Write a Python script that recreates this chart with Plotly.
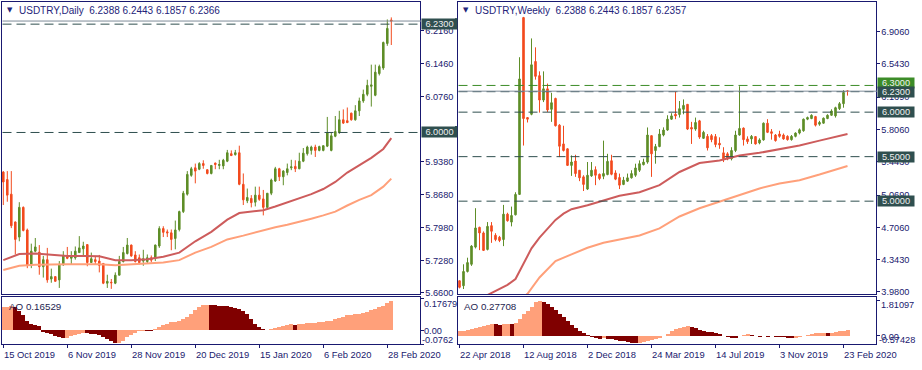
import plotly.graph_objects as go

W, H = 922, 370

# ---------------- Daily USDTRY (bars 15 Oct 2019 .. 2 Mar 2020) ----------------
d_open = [5.916, 5.900, 5.869, 5.810, 5.778, 5.841, 5.793, 5.718, 5.748, 5.746,
          5.715, 5.730, 5.689, 5.694, 5.687, 5.719, 5.736, 5.733, 5.734, 5.745,
          5.753, 5.762, 5.724, 5.730, 5.727, 5.722, 5.680, 5.682, 5.680, 5.697,
          5.726, 5.743, 5.761, 5.740, 5.734, 5.727, 5.726, 5.734, 5.733, 5.759,
          5.796, 5.789, 5.787, 5.775, 5.794, 5.832, 5.869, 5.909, 5.925, 5.922,
          5.934, 5.921, 5.913, 5.935, 5.930, 5.929, 5.939, 5.955, 5.953, 5.957,
          5.890, 5.855, 5.860, 5.852, 5.867, 5.859, 5.841, 5.871, 5.897, 5.923,
          5.906, 5.915, 5.925, 5.928, 5.923, 5.939, 5.955, 5.962, 5.969, 5.962,
          5.962, 5.971, 5.962, 5.992, 6.000, 6.027, 6.025, 6.041, 6.027, 6.046,
          6.067, 6.081, 6.098, 6.079, 6.125, 6.137, 6.189, 6.2388]
d_high = [5.918, 5.918, 5.918, 5.811, 5.852, 5.843, 5.796, 5.764, 5.776, 5.761,
          5.738, 5.755, 5.711, 5.694, 5.727, 5.748, 5.757, 5.748, 5.758, 5.780,
          5.768, 5.762, 5.745, 5.738, 5.740, 5.722, 5.698, 5.689, 5.703, 5.738,
          5.757, 5.776, 5.762, 5.748, 5.741, 5.751, 5.741, 5.739, 5.762, 5.801,
          5.801, 5.794, 5.794, 5.813, 5.834, 5.876, 5.918, 5.927, 5.934, 5.937,
          5.941, 5.921, 5.930, 5.936, 5.942, 5.944, 5.963, 5.962, 5.963, 5.972,
          5.913, 5.881, 5.867, 5.885, 5.885, 5.878, 5.871, 5.902, 5.927, 5.925,
          5.920, 5.934, 5.942, 5.941, 5.957, 5.967, 5.972, 5.972, 5.974, 5.972,
          5.972, 6.033, 6.000, 6.035, 6.046, 6.049, 6.053, 6.042, 6.058, 6.074,
          6.091, 6.112, 6.144, 6.144, 6.144, 6.193, 6.240, 6.2443]
d_low = [5.846, 5.853, 5.797, 5.741, 5.769, 5.790, 5.712, 5.712, 5.746, 5.698,
         5.692, 5.681, 5.681, 5.684, 5.670, 5.717, 5.731, 5.719, 5.730, 5.745,
         5.738, 5.716, 5.723, 5.719, 5.703, 5.678, 5.670, 5.668, 5.678, 5.697,
         5.724, 5.741, 5.736, 5.724, 5.720, 5.717, 5.722, 5.724, 5.727, 5.755,
         5.778, 5.778, 5.750, 5.752, 5.790, 5.829, 5.866, 5.906, 5.892, 5.920,
         5.923, 5.911, 5.911, 5.922, 5.922, 5.922, 5.937, 5.950, 5.951, 5.888,
         5.846, 5.850, 5.841, 5.843, 5.855, 5.824, 5.836, 5.867, 5.895, 5.897,
         5.888, 5.909, 5.920, 5.916, 5.922, 5.937, 5.951, 5.953, 5.948, 5.960,
         5.960, 5.969, 5.960, 5.990, 5.997, 6.018, 6.020, 6.025, 6.025, 6.035,
         6.063, 6.077, 6.055, 6.077, 6.121, 6.133, 6.184, 6.1857]
d_close = [5.895, 5.867, 5.802, 5.773, 5.841, 5.792, 5.718, 5.748, 5.757, 5.715,
           5.730, 5.687, 5.694, 5.684, 5.720, 5.738, 5.733, 5.736, 5.748, 5.755,
           5.759, 5.724, 5.732, 5.726, 5.718, 5.680, 5.684, 5.681, 5.697, 5.726,
           5.745, 5.761, 5.738, 5.726, 5.724, 5.732, 5.734, 5.729, 5.761, 5.796,
           5.788, 5.787, 5.773, 5.793, 5.832, 5.871, 5.911, 5.923, 5.918, 5.934,
           5.930, 5.913, 5.930, 5.932, 5.932, 5.941, 5.957, 5.951, 5.957, 5.890,
           5.857, 5.862, 5.851, 5.867, 5.858, 5.841, 5.871, 5.899, 5.923, 5.906,
           5.918, 5.923, 5.927, 5.923, 5.939, 5.956, 5.969, 5.969, 5.962, 5.970,
           5.972, 6.000, 5.993, 6.002, 6.027, 6.020, 6.021, 6.027, 6.046, 6.067,
           6.081, 6.100, 6.101, 6.128, 6.140, 6.191, 6.221, 6.2366]

d_ma_slow_idx = [0, 4, 8, 12, 16, 20, 24, 28, 32, 36, 40, 44, 48, 52, 56, 59, 62,
                 65, 68, 71, 74, 77, 80, 83, 86, 89, 92, 95, 97]
d_ma_slow = [5.729, 5.742, 5.743, 5.740, 5.738, 5.738, 5.737, 5.729, 5.729, 5.731,
             5.736, 5.745, 5.769, 5.789, 5.815, 5.829, 5.832, 5.835, 5.843, 5.852,
             5.860, 5.869, 5.880, 5.895, 5.915, 5.930, 5.946, 5.965, 5.988]
d_ma_fast_idx = [0, 4, 8, 12, 16, 20, 24, 28, 32, 36, 40, 44, 48, 52, 56, 60, 64,
                 68, 71, 74, 77, 80, 83, 86, 89, 92, 95, 97]
d_ma_fast = [5.708, 5.717, 5.719, 5.720, 5.720, 5.720, 5.720, 5.718, 5.720, 5.722,
             5.724, 5.729, 5.745, 5.757, 5.773, 5.781, 5.790, 5.799, 5.804, 5.810,
             5.817, 5.824, 5.832, 5.845, 5.857, 5.867, 5.885, 5.902]

d_ao = [0.128, 0.132, 0.138, 0.132, 0.110, 0.086, 0.053, 0.035, 0.031, 0.022,
        -0.009, -0.017, -0.020, -0.029, -0.039, -0.042, -0.041, -0.033, -0.024, -0.018,
        -0.015, -0.016, -0.018, -0.020, -0.028, -0.035, -0.046, -0.057, -0.070, -0.068,
        -0.057, -0.039, -0.024, -0.015, -0.004, -0.002, -0.004, -0.006, 0.009, 0.017,
        0.028, 0.035, 0.044, 0.045, 0.050, 0.061, 0.075, 0.092, 0.114, 0.132,
        0.141, 0.143, 0.141, 0.140, 0.138, 0.136, 0.134, 0.132, 0.127, 0.119,
        0.108, 0.090, 0.064, 0.037, 0.017, 0.006, 0.004, 0.007, 0.013, 0.020,
        0.026, 0.031, 0.033, 0.029, 0.033, 0.037, 0.039, 0.0395, 0.040, 0.044,
        0.048, 0.050, 0.055, 0.062, 0.070, 0.077, 0.084, 0.088, 0.090, 0.094,
        0.099, 0.105, 0.112, 0.121, 0.129, 0.136, 0.151, 0.16529]

d_tick_idx = [0, 16, 32, 48, 64, 80, 96]
d_tick_text = ["15 Oct 2019", "6 Nov 2019", "28 Nov 2019", "20 Dec 2019",
               "15 Jan 2020", "6 Feb 2020", "28 Feb 2020"]
d_price_ticks = [6.216, 6.146, 6.076, 5.938, 5.868, 5.798, 5.728, 5.660]
d_price_text = ["6.2160", "6.1460", "6.0760", "5.9380", "5.8680", "5.7980", "5.7280", "5.6600"]
d_levels = [6.23, 6.00]
d_level_text = ["6.2300", "6.0000"]
d_bid = 6.2366

# ---------------- Weekly USDTRY (bars 22 Apr 2018 .. 1 Mar 2020) ----------------
w_open = [4.106, 4.050, 4.210, 4.291, 4.484, 4.706, 4.643, 4.458, 4.725, 4.617,
          4.595, 4.569, 4.854, 4.765, 4.847, 5.076, 7.062, 5.939, 5.976, 6.569,
          6.410, 6.136, 6.262, 6.032, 6.154, 5.854, 5.643, 5.588, 5.402, 5.451,
          5.347, 5.273, 5.136, 5.284, 5.354, 5.302, 5.280, 5.299, 5.454, 5.317,
          5.265, 5.188, 5.225, 5.262, 5.291, 5.347, 5.410, 5.439, 5.736, 5.569,
          5.613, 5.743, 5.799, 5.921, 5.976, 5.973, 6.032, 6.088, 5.828, 5.810,
          5.902, 5.706, 5.728, 5.736, 5.725, 5.650, 5.543, 5.532, 5.476, 5.569,
          5.743, 5.821, 5.699, 5.699, 5.725, 5.654, 5.688, 5.876, 5.780, 5.743,
          5.754, 5.743, 5.728, 5.691, 5.728, 5.765, 5.791, 5.921, 5.928, 5.950,
          5.865, 5.876, 5.928, 5.965, 5.958, 6.039, 6.095, 6.2388]
w_high = [4.110, 4.291, 4.365, 4.506, 4.921, 4.713, 4.660, 4.765, 4.765, 4.640,
          4.610, 4.958, 4.870, 4.939, 5.100, 6.617, 7.070, 5.940, 6.828, 6.728,
          6.458, 6.458, 6.321, 6.217, 6.162, 5.865, 5.847, 5.595, 5.514, 5.521,
          5.347, 5.291, 5.440, 5.440, 5.391, 5.310, 5.680, 5.532, 5.521, 5.347,
          5.310, 5.273, 5.310, 5.347, 5.421, 5.458, 5.477, 5.828, 5.736, 5.643,
          5.810, 5.829, 5.965, 5.988, 6.236, 6.125, 6.143, 6.088, 5.891, 5.939,
          5.913, 5.791, 5.754, 5.754, 5.754, 5.717, 5.606, 5.550, 5.606, 5.791,
          6.291, 5.828, 5.728, 5.743, 5.728, 5.706, 5.884, 5.921, 5.810, 5.754,
          5.791, 5.760, 5.740, 5.743, 5.773, 5.817, 5.928, 5.950, 5.976, 5.958,
          5.902, 5.940, 5.976, 6.032, 6.061, 6.113, 6.247, 6.2443]
w_low = [4.020, 4.013, 4.199, 4.273, 4.469, 4.450, 4.440, 4.447, 4.532, 4.550,
         4.540, 4.495, 4.770, 4.717, 4.840, 5.069, 5.625, 5.884, 5.965, 6.365,
         5.995, 6.113, 6.002, 5.891, 5.839, 5.495, 5.558, 5.395, 5.284, 5.273,
         5.225, 5.114, 5.125, 5.273, 5.180, 5.236, 5.247, 5.291, 5.291, 5.236,
         5.136, 5.180, 5.217, 5.254, 5.273, 5.328, 5.402, 5.421, 5.273, 5.421,
         5.606, 5.728, 5.791, 5.914, 5.921, 5.939, 5.976, 5.799, 5.643, 5.791,
         5.700, 5.699, 5.569, 5.662, 5.606, 5.588, 5.439, 5.460, 5.458, 5.551,
         5.736, 5.625, 5.643, 5.643, 5.636, 5.639, 5.680, 5.765, 5.691, 5.669,
         5.713, 5.690, 5.680, 5.680, 5.717, 5.750, 5.780, 5.910, 5.921, 5.839,
         5.847, 5.870, 5.921, 5.958, 5.939, 6.024, 6.050, 6.1857]
w_close = [4.032, 4.210, 4.310, 4.495, 4.699, 4.643, 4.447, 4.717, 4.662, 4.569,
           4.558, 4.854, 4.780, 4.839, 5.076, 6.373, 5.928, 5.921, 6.532, 6.402,
           6.136, 6.262, 6.025, 6.106, 5.847, 5.617, 5.569, 5.402, 5.440, 5.310,
           5.262, 5.188, 5.291, 5.347, 5.291, 5.254, 5.310, 5.447, 5.302, 5.247,
           5.180, 5.236, 5.262, 5.310, 5.373, 5.421, 5.439, 5.743, 5.532, 5.613,
           5.754, 5.799, 5.921, 5.958, 5.958, 6.039, 6.076, 5.810, 5.810, 5.884,
           5.720, 5.773, 5.599, 5.691, 5.636, 5.632, 5.476, 5.476, 5.569, 5.743,
           5.817, 5.691, 5.669, 5.728, 5.643, 5.688, 5.876, 5.773, 5.762, 5.680,
           5.728, 5.699, 5.691, 5.728, 5.765, 5.802, 5.921, 5.939, 5.965, 5.854,
           5.884, 5.932, 5.965, 6.013, 6.050, 6.095, 6.220, 6.2357]

w_ma_slow_idx = [5, 8, 10, 12, 14, 16, 18, 20, 22, 24, 26, 28, 32, 36, 40, 45, 50,
                 55, 60, 65, 70, 75, 80, 85, 90, 95, 97]
w_ma_slow = [3.90, 3.97, 4.01, 4.06, 4.125, 4.30, 4.47, 4.59, 4.69, 4.79, 4.86,
             4.91, 4.955, 5.01, 5.06, 5.10, 5.18, 5.328, 5.428, 5.458, 5.513,
             5.543, 5.588, 5.625, 5.68, 5.728, 5.754]
w_ma_fast_idx = [15, 17, 20, 24, 28, 32, 36, 40, 45, 50, 55, 60, 65, 70, 75, 80,
                 85, 90, 95, 97]
w_ma_fast = [3.88, 3.96, 4.143, 4.328, 4.402, 4.476, 4.532, 4.569, 4.615, 4.695,
             4.828, 4.921, 4.995, 5.076, 5.143, 5.199, 5.236, 5.299, 5.373, 5.395]

w_ao = [0.222, 0.256, 0.291, 0.342, 0.393, 0.444, 0.496, 0.564, 0.615, 0.581,
        0.573, 0.598, 0.607, 0.581, 0.632, 0.855, 1.111, 1.299, 1.504, 1.761,
        1.81097, 1.761, 1.658, 1.504, 1.316, 1.145, 0.957, 0.769, 0.564, 0.393,
        0.222, 0.120, 0.017, -0.068, -0.120, -0.171, -0.120, -0.171, -0.179, -0.205,
        -0.256, -0.291, -0.325, -0.359, -0.385, -0.376, -0.325, -0.291, -0.222, -0.154,
        -0.103, -0.034, 0.085, 0.222, 0.342, 0.393, 0.444, 0.496, 0.444, 0.376,
        0.308, 0.256, 0.205, 0.188, 0.137, 0.068, 0.000, -0.068, -0.120, -0.128,
        -0.017, 0.051, 0.068, 0.034, -0.017, -0.051, -0.034, -0.051, -0.043, -0.051,
        -0.068, -0.085, -0.120, -0.137, -0.103, -0.068, -0.034, 0.034, 0.085, 0.137,
        0.154, 0.162, 0.145, 0.154, 0.188, 0.222, 0.256, 0.27708]

w_tick_idx = [0, 16, 32, 48, 64, 80, 96]
w_tick_text = ["22 Apr 2018", "12 Aug 2018", "2 Dec 2018", "24 Mar 2019",
               "14 Jul 2019", "3 Nov 2019", "23 Feb 2020"]
w_price_ticks = [6.906, 6.543, 6.169, 5.806, 5.443, 5.069, 4.706, 4.343, 3.980]
w_price_text = ["6.9060", "6.5430", "6.1690", "5.8060", "5.4430", "5.0690",
                "4.7060", "4.3430", "3.9800"]
w_levels = [6.30, 6.23, 6.00, 5.50, 5.00]
w_level_text = ["6.3000", "6.2300", "6.0000", "5.5000", "5.0000"]
w_bid = 6.2357

# ---------------- styling ----------------
BULL = "#5E8E28"
BEAR = "#F24B1F"
MA_SLOW = "#CD5C5C"
MA_FAST = "#FFA07A"
AO_UP = "#FFA07A"
AO_DN = "#800000"
NAVY = "#191970"
TXT = "#20206E"
SLATE = "#2F4F4F"
LEVEL_GREEN = "#3C8C28"
BIDGRAY = "#7F8C99"
FONT = "Liberation Sans, Arial, sans-serif"


def px(x):
    return x / W


def py(y):
    return 1 - y / H


def ao_colors(vals):
    cols = []
    for k, v in enumerate(vals):
        cols.append(AO_UP if k == 0 or v > vals[k - 1] else AO_DN)
    return cols


fig = go.Figure()

panels = [
    dict(xa="x", ya="y", xa2="x2", ya2="y2", o=d_open, h=d_high, l=d_low, c=d_close,
         s_idx=d_ma_slow_idx, s=d_ma_slow, f_idx=d_ma_fast_idx, f=d_ma_fast, ao=d_ao),
    dict(xa="x3", ya="y3", xa2="x4", ya2="y4", o=w_open, h=w_high, l=w_low, c=w_close,
         s_idx=w_ma_slow_idx, s=w_ma_slow, f_idx=w_ma_fast_idx, f=w_ma_fast, ao=w_ao),
]

for p in panels:
    idx = list(range(len(p["o"])))
    fig.add_trace(go.Scatter(x=p["f_idx"], y=p["f"], mode="lines",
                             line=dict(color=MA_FAST, width=2, shape="linear"),
                             xaxis=p["xa"], yaxis=p["ya"], hoverinfo="skip"))
    fig.add_trace(go.Scatter(x=p["s_idx"], y=p["s"], mode="lines",
                             line=dict(color=MA_SLOW, width=2, shape="linear"),
                             xaxis=p["xa"], yaxis=p["ya"], hoverinfo="skip"))
    fig.add_trace(go.Candlestick(
        x=idx, open=p["o"], high=p["h"], low=p["l"], close=p["c"],
        increasing=dict(line=dict(color=BULL, width=1), fillcolor=BULL),
        decreasing=dict(line=dict(color=BEAR, width=1), fillcolor=BEAR),
        whiskerwidth=0, xaxis=p["xa"], yaxis=p["ya"], hoverinfo="skip"))
    fig.add_trace(go.Bar(x=idx, y=p["ao"], width=1.0, marker=dict(color=ao_colors(p["ao"]), line=dict(width=0)),
                         xaxis=p["xa2"], yaxis=p["ya2"], hoverinfo="skip"))

axis_common = dict(showgrid=False, zeroline=False, showline=True, mirror=True,
                   linecolor=NAVY, linewidth=1, fixedrange=True)
tickfont = dict(family=FONT, size=9.2, color=TXT)

d_xdom = [px(2), px(419.5)]
w_xdom = [px(458), px(875.5)]
main_ydom = [py(297.5), py(2.5)]
ao_ydom = [py(348), py(300.5)]

layout = dict(
    width=W, height=H, margin=dict(l=0, r=0, t=0, b=0),
    paper_bgcolor="white", plot_bgcolor="white", showlegend=False,
    hovermode=False, boxgap=0.45, bargap=0,
    xaxis=dict(axis_common, domain=d_xdom, range=[-0.325, 104.05], anchor="y",
               showticklabels=False, ticks="", rangeslider=dict(visible=False)),
    yaxis=dict(axis_common, domain=main_ydom, range=[5.6565, 6.276], anchor="x", side="right",
               tickmode="array", tickvals=d_price_ticks, ticktext=d_price_text,
               ticks="outside", ticklen=3, tickcolor=NAVY, tickfont=tickfont),
    xaxis2=dict(axis_common, domain=d_xdom, range=[-0.325, 104.05], anchor="y2",
                tickmode="array", tickvals=d_tick_idx, ticks="outside", ticklen=3,
                tickcolor=NAVY, showticklabels=False),
    yaxis2=dict(axis_common, domain=ao_ydom, range=[-0.0771, 0.1846], anchor="x2", side="right",
                tickmode="array", tickvals=[0.17679, 0.0, -0.0762], ticks="outside", ticklen=3,
                tickcolor=NAVY, showticklabels=False),
    xaxis3=dict(axis_common, domain=w_xdom, range=[-0.375, 104.0], anchor="y3",
                showticklabels=False, ticks="", rangeslider=dict(visible=False)),
    yaxis3=dict(axis_common, domain=main_ydom, range=[3.954, 7.232], anchor="x3", side="right",
                tickmode="array", tickvals=w_price_ticks, ticktext=w_price_text,
                ticks="outside", ticklen=3, tickcolor=NAVY, tickfont=tickfont),
    xaxis4=dict(axis_common, domain=w_xdom, range=[-0.375, 104.0], anchor="y4",
                tickmode="array", tickvals=w_tick_idx, ticks="outside", ticklen=3,
                tickcolor=NAVY, showticklabels=False),
    yaxis4=dict(axis_common, domain=ao_ydom, range=[-0.446, 1.99], anchor="x4", side="right",
                tickmode="array", tickvals=[1.81097, 0.0], ticks="outside", ticklen=3,
                tickcolor=NAVY, showticklabels=False),
)
fig.update_layout(**layout)

shapes = []
ann = []

# level lines + boxed labels
for lv, txt in zip(d_levels, d_level_text):
    shapes.append(dict(type="line", xref="paper", yref="y", x0=px(2.5), x1=px(420.5), y0=lv, y1=lv,
                       line=dict(color=SLATE, width=1, dash="9px,5px"), layer="above"))
shapes.append(dict(type="line", xref="paper", yref="y", x0=px(2.5), x1=px(421), y0=d_bid, y1=d_bid,
                   line=dict(color=BIDGRAY, width=1), layer="above"))
for lv, txt in zip(w_levels, w_level_text):
    col = LEVEL_GREEN if txt == "6.3000" else SLATE
    shapes.append(dict(type="line", xref="paper", yref="y3", x0=px(458.5), x1=px(877), y0=lv, y1=lv,
                       line=dict(color=col, width=1, dash="9px,5px"), layer="above"))
shapes.append(dict(type="line", xref="paper", yref="y3", x0=px(458.5), x1=px(877), y0=w_bid, y1=w_bid,
                   line=dict(color=BIDGRAY, width=1), layer="above"))

# small label stubs peeking out left of the weekly window
for y0, y1 in [(18.5, 28.5), (127.5, 137.5)]:
    shapes.append(dict(type="rect", xref="paper", yref="paper", x0=px(455), x1=px(457),
                       y0=py(y1), y1=py(y0), line=dict(width=0), fillcolor=SLATE))

for lv, txt in zip(d_levels, d_level_text):
    ann.append(dict(xref="paper", yref="y", x=px(420.5), y=lv, xanchor="left", yanchor="middle",
                    text=txt, showarrow=False, bgcolor=SLATE, width=35, height=10, borderpad=0,
                    font=dict(family=FONT, size=9.2, color="#F0F0F0"), align="center"))
for lv, txt in zip(w_levels, w_level_text):
    bg = LEVEL_GREEN if txt == "6.3000" else SLATE
    ann.append(dict(xref="paper", yref="y3", x=px(877), y=lv, xanchor="left", yanchor="middle",
                    yshift=2 if txt == "6.3000" else 0,
                    text=txt, showarrow=False, bgcolor=bg, width=36, height=10, borderpad=0,
                    font=dict(family=FONT, size=9.2, color="#F0F0F0"), align="center"))

# date labels (left aligned at tick like the terminal)
for i, t in zip(d_tick_idx, d_tick_text):
    ann.append(dict(xref="x2", yref="paper", x=i, y=py(358), xanchor="left", yanchor="middle",
                    text=t, showarrow=False, borderpad=0, xshift=-0.5,
                    font=dict(family=FONT, size=9.4, color=TXT)))
for i, t in zip(w_tick_idx, w_tick_text):
    ann.append(dict(xref="x4", yref="paper", x=i, y=py(358), xanchor="left", yanchor="middle",
                    text=t, showarrow=False, borderpad=0, xshift=-1,
                    font=dict(family=FONT, size=9.4, color=TXT)))

# titles
ttl_font = dict(family=FONT, size=10, color="#24247A")
ann.append(dict(xref="paper", yref="paper", x=px(6), y=py(10.5), xanchor="left", yanchor="middle",
                text="\u25BC", showarrow=False, borderpad=0, font=dict(family="DejaVu Sans", size=7, color="#24247A")))
ann.append(dict(xref="paper", yref="paper", x=px(18), y=py(10.8), xanchor="left", yanchor="middle",
                text="USDTRY,Daily\u00a0\u00a0" + " ".join(f"{v:.4f}" for v in [d_open[-1], d_high[-1], d_low[-1], d_close[-1]]),
                showarrow=False, borderpad=0, font=ttl_font))
ann.append(dict(xref="paper", yref="paper", x=px(462), y=py(10.5), xanchor="left", yanchor="middle",
                text="\u25BC", showarrow=False, borderpad=0, font=dict(family="DejaVu Sans", size=7, color="#24247A")))
ann.append(dict(xref="paper", yref="paper", x=px(474), y=py(10.8), xanchor="left", yanchor="middle",
                text="USDTRY,Weekly\u00a0\u00a0" + " ".join(f"{v:.4f}" for v in [w_open[-1], w_high[-1], w_low[-1], w_close[-1]]),
                showarrow=False, borderpad=0, font=ttl_font))

# AO labels
ann.append(dict(xref="paper", yref="paper", x=px(7.5), y=py(310), xanchor="left", yanchor="middle",
                text=f"AO {d_ao[-1]:.5f}", showarrow=False, borderpad=0, font=dict(family=FONT, size=9.8, color="#1E1E50")))
ann.append(dict(xref="paper", yref="paper", x=px(463.5), y=py(310), xanchor="left", yanchor="middle",
                text=f"AO {w_ao[-1]:.5f}", showarrow=False, borderpad=0, font=dict(family=FONT, size=9.8, color="#1E1E50")))
for txt, x, y in [("0.17679", 423.3, 307.7), ("0.00", 423.3, 334.3), ("-0.0762", 420.7, 343.3),
                  ("1.81097", 880, 308.5), ("0.00", 880, 340.5), ("-0.57428", 877.5, 343.3)]:
    ann.append(dict(xref="paper", yref="paper", x=px(x), y=py(y), xanchor="left", yanchor="middle",
                    text=txt, showarrow=False, borderpad=0, font=dict(family=FONT, size=9.2, color=TXT)))

fig.update_layout(shapes=shapes, annotations=ann)
fig.write_html(
    "out.html",
    config={"displayModeBar": False, "staticPlot": True},
    post_script="document.body.style.margin='0';document.body.style.overflow='hidden';",
)
